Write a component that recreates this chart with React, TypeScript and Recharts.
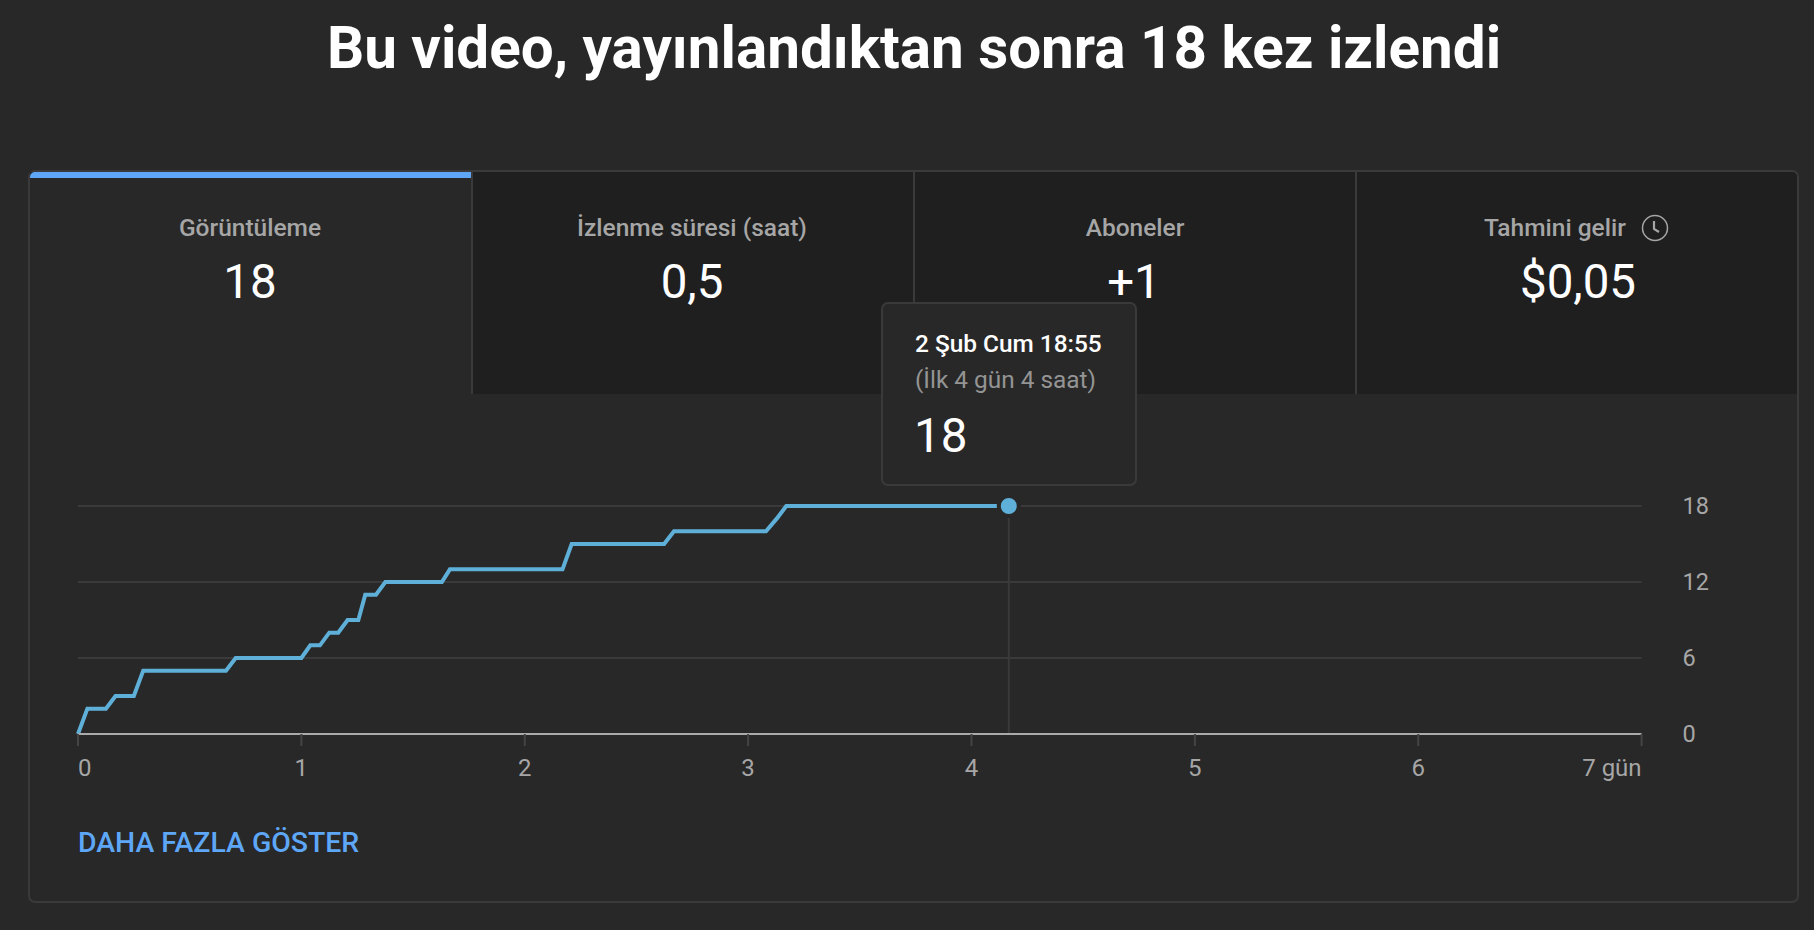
import React from "react";
import { LineChart, Line, XAxis, YAxis, CartesianGrid, ReferenceLine } from "recharts";

const days = [0, 0.042, 0.125, 0.168, 0.25, 0.292, 0.6625, 0.706, 1.0, 1.04, 1.083, 1.125, 1.165, 1.207, 1.255, 1.286, 1.334, 1.376, 1.629, 1.665, 2.169, 2.21, 2.624, 2.668, 3.08, 3.128, 3.171, 4.167];
const views = [0, 2, 2, 3, 3, 5, 5, 6, 6, 7, 7, 8, 8, 9, 9, 11, 11, 12, 12, 13, 13, 15, 15, 16, 16, 17, 18, 18];
const xTicks = [0, 1, 2, 3, 4, 5, 6, 7];
const yTicks = [0, 6, 12, 18];
const tabLabels = ["Görüntüleme", "İzlenme süresi (saat)", "Aboneler", "Tahmini gelir"];
const tabValues = ["18", "0,5", "+1", "$0,05"];
const title = "Bu video, yayınlandıktan sonra 18 kez izlendi";
const tooltipDate = "2 Şub Cum 18:55";
const tooltipSpan = "(İlk 4 gün 4 saat)";
const tooltipValue = "18";
const moreLabel = "DAHA FAZLA GÖSTER";
const hoverDay = 4.167;

const data = days.map((d, i) => ({ day: d, views: views[i] }));

const FONT = "Roboto, sans-serif";
const BG = "#282828";
const TAB_BG = "#1f1f1f";
const EDGE = "#3a3a3a";
const LINE = "#5fb0d9";
const MUTED = "#a6a6a6";

const centered = (x: number, y: number, style: React.CSSProperties): React.CSSProperties => ({
  position: "absolute", left: x, top: y, transform: "translate(-50%,-50%)", lineHeight: 1, whiteSpace: "nowrap", fontFamily: FONT, ...style,
});
const leftMid = (x: number, y: number, style: React.CSSProperties): React.CSSProperties => ({
  position: "absolute", left: x, top: y, transform: "translateY(-50%)", lineHeight: 1, whiteSpace: "nowrap", fontFamily: FONT, ...style,
});

const XTick = (p: any) => {
  const v = p.payload.value;
  const anchor = v === 0 ? "start" : v === 7 ? "end" : "middle";
  return (
    <text x={p.x} y={p.y} dy={22} textAnchor={anchor} dominantBaseline="middle" fill={MUTED} fontSize={24} fontFamily={FONT}>
      {v === 7 ? "7 gün" : String(v)}
    </text>
  );
};
const YTick = (p: any) => (
  <text x={p.x} y={p.y} textAnchor="start" dominantBaseline="central" fill={MUTED} fontSize={23.5} fontFamily={FONT}>
    {p.payload.value}
  </text>
);
const EndDot = (p: any) =>
  p.index === days.length - 1 ? (
    <circle key="end" cx={p.cx} cy={p.cy} r={10} fill={LINE} stroke={BG} strokeWidth={4} />
  ) : (
    <g key={p.index} />
  );

export default function App() {
  const tabs = [
    { l: 30, w: 443 },
    { l: 473, w: 442 },
    { l: 915, w: 442 },
    { l: 1357, w: 440 },
  ];
  return (
    <div style={{ position: "absolute", left: 0, top: 0, width: 1814, height: 930, background: BG, overflow: "hidden" }}>
      <div style={centered(914, 48, { color: "#fff", fontSize: 58.4, fontWeight: 700 })}>{title}</div>

      <div style={{ position: "absolute", left: 28, top: 170, width: 1771, height: 733, boxSizing: "border-box", border: `2px solid ${EDGE}`, borderRadius: 7 }} />
      {tabs.map((t, i) => (
        <div key={i} style={{ position: "absolute", left: t.l, top: 172, width: t.w, height: 222, background: i === 0 ? BG : TAB_BG, boxSizing: "border-box", borderRight: i < 3 ? `2px solid ${EDGE}` : "none", borderTopRightRadius: i === 3 ? 5 : 0 }} />
      ))}
      <div style={{ position: "absolute", left: 30, top: 172, width: 441, height: 6, background: "#5ea7f7", borderTopLeftRadius: 5 }} />

      <div style={centered(250, 228, { color: MUTED, fontSize: 24.5, fontWeight: 500 })}>{tabLabels[0]}</div>
      <div style={centered(692, 228, { color: MUTED, fontSize: 24.5, fontWeight: 500 })}>{tabLabels[1]}</div>
      <div style={centered(1135, 228, { color: MUTED, fontSize: 24.5, fontWeight: 500 })}>{tabLabels[2]}</div>
      <div style={leftMid(1484, 228, { color: MUTED, fontSize: 24.5, fontWeight: 500 })}>{tabLabels[3]}</div>
      <svg style={{ position: "absolute", left: 1640, top: 213 }} width={30} height={30} viewBox="0 0 30 30">
        <circle cx={15} cy={15} r={12.5} fill="none" stroke={MUTED} strokeWidth={1.5} />
        <path d="M14 8 V16 L19 19" fill="none" stroke={MUTED} strokeWidth={2.2} />
      </svg>

      <div style={centered(250, 283, { color: "#fff", fontSize: 47.5 })}>{tabValues[0]}</div>
      <div style={centered(692, 283, { color: "#fff", fontSize: 47.5 })}>{tabValues[1]}</div>
      <div style={centered(1134, 283, { color: "#fff", fontSize: 47.5 })}>{tabValues[2]}</div>
      <div style={centered(1578, 283, { color: "#fff", fontSize: 47.5 })}>{tabValues[3]}</div>

      <div style={{ position: "absolute", left: 0, top: 0 }}>
        <LineChart
          width={1814}
          height={930}
          data={data}
          margin={{ left: 78, top: 506, right: 112.4, bottom: 136 }}
        >
          <CartesianGrid vertical={false} stroke={EDGE} strokeWidth={2} />
          <XAxis
            dataKey="day"
            type="number"
            domain={[0, 7]}
            ticks={xTicks}
            height={60}
            interval={0}
            tick={<XTick />}
            tickSize={12}
            tickLine={{ stroke: "#444444", strokeWidth: 2 }}
            axisLine={{ stroke: "#aaaaaa", strokeWidth: 2 }}
          />
          <YAxis
            orientation="right"
            domain={[0, 18]}
            ticks={yTicks}
            width={60}
            interval={0}
            tick={<YTick />}
            tickSize={0}
            tickMargin={41}
            tickLine={false}
            axisLine={false}
          />
          <ReferenceLine x={hoverDay} stroke={EDGE} strokeWidth={2} />
          <Line
            dataKey="views"
            type="linear"
            stroke={LINE}
            strokeWidth={4}
            strokeLinejoin="miter"
            dot={<EndDot />}
            activeDot={false}
            isAnimationActive={false}
          />
        </LineChart>
      </div>

      <div style={{ position: "absolute", left: 881, top: 302, width: 256, height: 184, boxSizing: "border-box", background: BG, border: `2px solid ${EDGE}`, borderRadius: 7 }} />
      <div style={leftMid(915, 344, { color: "#fff", fontSize: 24.4, fontWeight: 500 })}>{tooltipDate}</div>
      <div style={leftMid(915, 380, { color: "#949494", fontSize: 24.4 })}>{tooltipSpan}</div>
      <div style={leftMid(914, 437, { color: "#fff", fontSize: 47.5 })}>{tooltipValue}</div>

      <div style={leftMid(78, 843, { color: "#5ea7f7", fontSize: 28.4, fontWeight: 500 })}>{moreLabel}</div>
    </div>
  );
}
